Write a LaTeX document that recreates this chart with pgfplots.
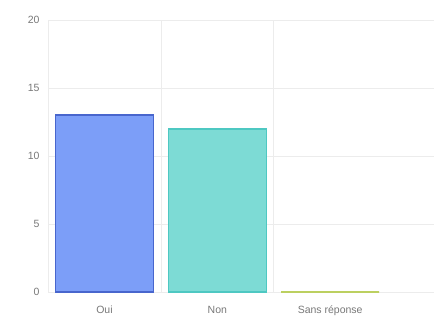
\documentclass[border=0pt]{standalone}
\usepackage{pgfplots}
\pgfplotsset{compat=1.18}
\usepackage{fontspec}
\setmainfont{Liberation Sans}
\definecolor{ouifill}{RGB}{124,158,248}
\definecolor{ouiline}{RGB}{72,102,205}
\definecolor{nonfill}{RGB}{125,219,213}
\definecolor{nonline}{RGB}{78,200,194}
\definecolor{sansline}{RGB}{188,208,96}
\definecolor{gridc}{RGB}{236,236,236}
\definecolor{labc}{RGB}{120,120,120}
\begin{document}
\begin{tikzpicture}[x=1pt,y=1pt]
\useasboundingbox (0,0) rectangle (441,316);
\begin{axis}[
  at={(48pt,24pt)}, anchor=south west,
  scale only axis, width=386pt, height=272pt,
  xmin=-0.5, xmax=2.92, ymin=0, ymax=20,
  ytick={0,5,10,15,20},
  xtick={0,1,2}, xticklabels={Oui,Non,Sans réponse},
  minor xtick={0.5,1.5},
  xminorgrids, ymajorgrids,
  grid style={gridc, line width=0.6pt},
  minor grid style={gridc, line width=0.6pt},
  axis x line*=bottom, axis y line*=left,
  axis line style={gridc, line width=0.8pt},
  x axis line style={draw=none},
  y axis line style={draw=gridc},
  major tick length=6pt,
  xtick style={draw=none},
  ytick style={draw=gridc, line width=0.8pt},
  minor tick length=0pt,
  tick label style={font=\fontsize{10.5}{12}\selectfont, text=labc},
  /pgf/number format/assume math mode=true,
  yticklabel style={xshift=-5pt},
  xticklabel style={yshift=-4pt, text height=1.6ex, text depth=0.3ex},
  ybar, bar width=98pt, bar shift=0pt,
  clip=false,
]
\addplot[fill=ouifill, draw=ouiline, line width=1.5pt] coordinates {(0,13)};
\addplot[fill=nonfill, draw=nonline, line width=1.5pt] coordinates {(1,12)};
\addplot[fill=sansline, draw=sansline, line width=2.2pt] coordinates {(2,0)};
\end{axis}
\end{tikzpicture}
\end{document}
